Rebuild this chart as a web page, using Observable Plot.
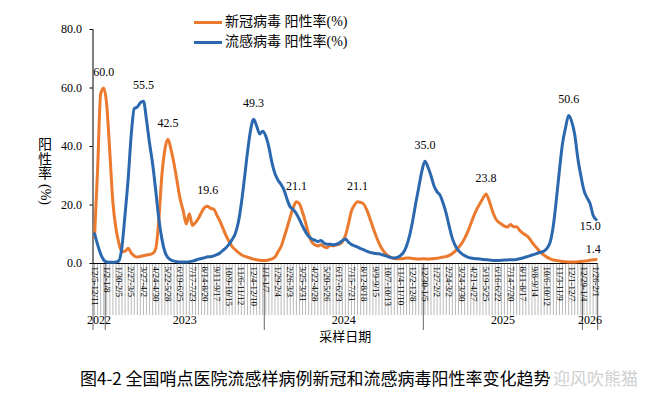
<!DOCTYPE html>
<html><head><meta charset="utf-8">
<script src="https://cdn.jsdelivr.net/npm/d3@7"></script>
<script src="https://cdn.jsdelivr.net/npm/@observablehq/plot@0.6"></script>
<style>
body{margin:0;background:#fff;}
#wrap{position:relative;width:662px;height:398px;overflow:hidden;font-family:'Liberation Serif','Noto Sans CJK SC',serif;color:#000;}
#chart{position:absolute;left:0;top:0;}
.legend{position:absolute;left:194px;font-size:14px;display:flex;align-items:center;height:18px;line-height:18px;white-space:nowrap;}
.legend .sw{display:inline-block;width:28px;height:3px;margin-right:3px;}
#ylab{position:absolute;left:35px;top:138px;width:20px;display:flex;flex-direction:column;align-items:center;font-size:14px;line-height:14.5px;}
#ylab .rot{writing-mode:vertical-rl;line-height:16px;margin-top:2px;}
#caption{position:absolute;left:80px;top:367px;font-family:'Noto Sans CJK SC',sans-serif;font-size:17px;line-height:22px;white-space:nowrap;}
#wm{position:absolute;left:553px;top:367px;font-family:'Noto Sans CJK SC',sans-serif;font-size:17px;line-height:22px;color:#cfcfcf;white-space:nowrap;}
</style></head>
<body>
<div id="wrap">
  <div id="chart"></div>
  <div class="legend" style="top:13px"><span class="sw" style="background:#EB7A2E"></span>新冠病毒 阳性率(%)</div>
  <div class="legend" style="top:33px"><span class="sw" style="background:#2B68AF"></span>流感病毒 阳性率(%)</div>
  <div id="ylab"><span>阳</span><span>性</span><span>率</span><span class="rot">(%)</span></div>
  <div id="caption">图4-2 全国哨点医院流感样病例新冠和流感病毒阳性率变化趋势</div>
  <div id="wm">迎风吹熊猫</div>
</div>
<script>
const yearGroups = ["2022","2023","2024","2025","2026"];
const yearWeeks = [4, 52, 52, 52, 5];
const tickLabels = [
  "12/5-12/11",
  "1/2-1/8","1/30-2/5","2/27-3/5","3/27-4/2","4/24-4/30","5/22-5/28","6/19-6/25","7/17-7/23","8/14-8/20","9/11-9/17","10/9-10/15","11/6-11/12","12/4-12/10",
  "1/1-1/7","1/29-2/4","2/26-3/3","3/25-3/31","4/22-4/28","5/20-5/26","6/17-6/23","7/15-7/21","8/12-8/18","9/9-9/15","10/7-10/13","11/4-11/10","12/2-12/8",
  "12/30-1/5","1/27-2/2","2/24-3/2","3/24-3/30","4/21-4/27","5/19-5/25","6/16-6/22","7/14-7/20","8/11-8/17","9/8-9/14","10/6-10/12","11/3-11/9","12/1-12/7",
  "12/29-1/4","1/26-2/1"
];
// 新冠病毒 阳性率(%) weekly
const covid = [
  9, 32, 58, 60.0, 54, 38, 21, 12, 6.8, 4.0,
  4.2, 5.2, 3.6, 2.6, 2.2, 2.4, 2.7, 2.9, 3.1, 3.4,
  5.0, 14.5, 30, 39, 42.5, 39, 34, 28, 22, 18,
  13.5, 17, 13, 14, 15.5, 17.5, 19.2, 19.6, 18.8, 18.6,
  16.5, 14.5, 12, 9.5, 7.5, 5.8, 4.7, 3.8, 3.0, 2.5,
  2.2, 1.8, 1.5, 1.3, 1.1, 1.0, 1.0, 1.3, 1.6, 2.2,
  4.0, 5.8, 9, 12.4, 16, 19.2, 21.1, 20.4, 17.5, 14,
  10, 7.4, 6.4, 6.0, 6.4, 5.8, 5.4, 6.2, 6.0, 6.3,
  6.6, 7.4, 9.5, 13.5, 18, 20, 21.1, 20.9, 20.3, 18.3,
  15.5, 12.4, 9.5, 7, 5, 3.6, 2.6, 2.0, 1.7, 1.6,
  1.6, 1.7, 1.9, 1.9, 1.7, 1.6, 1.5, 1.6, 1.6, 1.5,
  1.6, 1.7, 1.8, 2.0, 2.2, 2.4, 2.8, 3.4, 4.3, 5.5,
  6.8, 8.6, 10.8, 13.5, 16.3, 18.6, 20.5, 22.3, 23.8, 21.5,
  18.2, 15.6, 14.2, 13.5, 12.8, 12.5, 13.3, 12.6, 12.6, 11.3,
  10.4, 9.7, 8.8, 7.3, 6.0, 4.8, 3.6, 2.8, 2.1, 1.6,
  1.2, 1.0, 0.9, 0.7, 0.6, 0.5, 0.5, 0.5, 0.6, 0.7,
  0.8, 0.9, 1.1, 1.3, 1.4
];
// 流感病毒 阳性率(%) weekly
const flu = [
  10.2, 6.5, 3.3, 1.2, 0.5, 0.4, 0.4, 0.5, 1.0, 6,
  17, 29, 44, 53, 53.5, 55.0, 55.5, 49, 41, 34,
  25, 15.5, 8.5, 4, 2.0, 1.2, 0.8, 0.6, 0.5, 0.5,
  0.5, 0.6, 0.8, 1.1, 1.5, 1.7, 2.0, 2.3, 2.3, 2.6,
  3.0, 3.6, 4.5, 5.4, 6.6, 8.2, 10.2, 14, 20.5, 29,
  38, 45.5, 49.3, 47, 44.3, 45.2, 43.5, 39.8, 34.5, 30.7,
  28.5, 27, 25, 21.8, 19.3, 18.4, 17, 15, 12.8, 10.8,
  9.3, 8.4, 8.0, 7.5, 7.9, 7.0, 6.6, 6.6, 6.4, 6.6,
  7.0, 7.8, 8.4, 7.3, 6.5, 6.0, 5.6, 5.1, 4.7, 4.2,
  3.8, 3.6, 3.4, 3.3, 3.0, 2.7, 2.3, 2.0, 1.9, 2.1,
  2.7, 3.8, 6, 9.5, 14.5, 20.5, 26, 31.5, 35.0, 33,
  30, 26.5, 24.5, 23.3, 20.5, 17, 12.5, 8.5, 6, 4.4,
  3.4, 2.7, 2.2, 1.9, 1.7, 1.6, 1.5, 1.4, 1.3, 1.2,
  1.1, 1.0, 1.0, 1.1, 1.2, 1.2, 1.3, 1.3, 1.4, 1.6,
  1.9, 2.2, 2.5, 2.9, 3.2, 3.6, 3.9, 4.3, 5.3, 7.5,
  13, 22, 32, 41, 46.5, 50.6, 48.5, 44, 36, 30,
  25, 22.5, 20.5, 16.5, 15.0
];
const peakCovid = [3, 24, 37, 66, 86, 128];
const peakFlu = [16, 52, 108, 155];

const starts = [];
let acc = 0;
yearWeeks.forEach(n => { starts.push(acc); acc += n; });
const tickIdx = [];
starts.forEach((s, k) => { for (let j = 0; j < yearWeeks[k]; j += 4) tickIdx.push(s + j); });
const boundaries = [-0.5, ...starts.slice(1).map(s => s - 0.5), acc - 0.5];
const yearCenters = starts.map((s, k) => s + (yearWeeks[k] - 1) / 2);
const last = covid.length - 1;
const rows = covid.map((v, i) => ({i, covid: v, flu: flu[i]}));
const ORANGE = "#EB7A2E", BLUE = "#2B68AF";
const serif = "'Liberation Serif','Noto Sans CJK SC',serif";

const chart = Plot.plot({
  width: 662, height: 350,
  marginTop: 29, marginBottom: 87, marginLeft: 92.5, marginRight: 64.8,
  style: {fontFamily: serif, fontSize: "12px", color: "#000", background: "transparent", overflow: "visible"},
  x: {domain: [-0.5, last + 0.5], label: null},
  y: {domain: [0, 80], label: null},
  marks: [
    Plot.axisX({ticks: d3.range(rows.length), tickSize: 52, tickFormat: () => "", stroke: "#a8a8a8", strokeWidth: 0.8, label: null}),
    Plot.axisX({ticks: boundaries, tickSize: 67, tickFormat: () => "", stroke: "#666", label: null}),
    Plot.axisX({ticks: tickIdx, tickFormat: i => tickLabels[tickIdx.indexOf(i)], tickRotate: 90, tickSize: 0, tickPadding: 3, fontSize: 9, label: null}),
    Plot.axisX({ticks: yearCenters, tickFormat: c => yearGroups[yearCenters.indexOf(c)], tickSize: 0, tickPadding: 52, fontSize: 12, label: null}),
    Plot.axisY({ticks: [0, 20, 40, 60, 80], tickFormat: d => d.toFixed(1), tickSize: 3, tickPadding: 8, fontSize: 12, label: null}),
    Plot.ruleX([-0.5], {stroke: "#000"}),
    Plot.ruleY([0], {stroke: "#000"}),
    Plot.line(rows, {x: "i", y: "covid", stroke: ORANGE, strokeWidth: 3, curve: "monotone-x"}),
    Plot.line(rows, {x: "i", y: "flu", stroke: BLUE, strokeWidth: 3, curve: "monotone-x"}),
    Plot.text(peakCovid, {x: d => d, y: d => covid[d], text: d => covid[d].toFixed(1), dy: -16, fontSize: 12}),
    Plot.text(peakFlu, {x: d => d, y: d => flu[d], text: d => flu[d].toFixed(1), dy: -16, fontSize: 12}),
    Plot.text([last], {x: d => d, y: d => flu[d], text: d => flu[d].toFixed(1), dx: -6, dy: 7, fontSize: 12}),
    Plot.text([last], {x: d => d, y: d => covid[d], text: d => covid[d].toFixed(1), dx: -3, dy: -10, fontSize: 12}),
    Plot.text(["采样日期"], {frameAnchor: "bottom", dy: 77, fontSize: 13, fontFamily: "'Noto Sans CJK SC',sans-serif"})
  ]
});
document.getElementById("chart").appendChild(chart);
</script>
</body></html>
